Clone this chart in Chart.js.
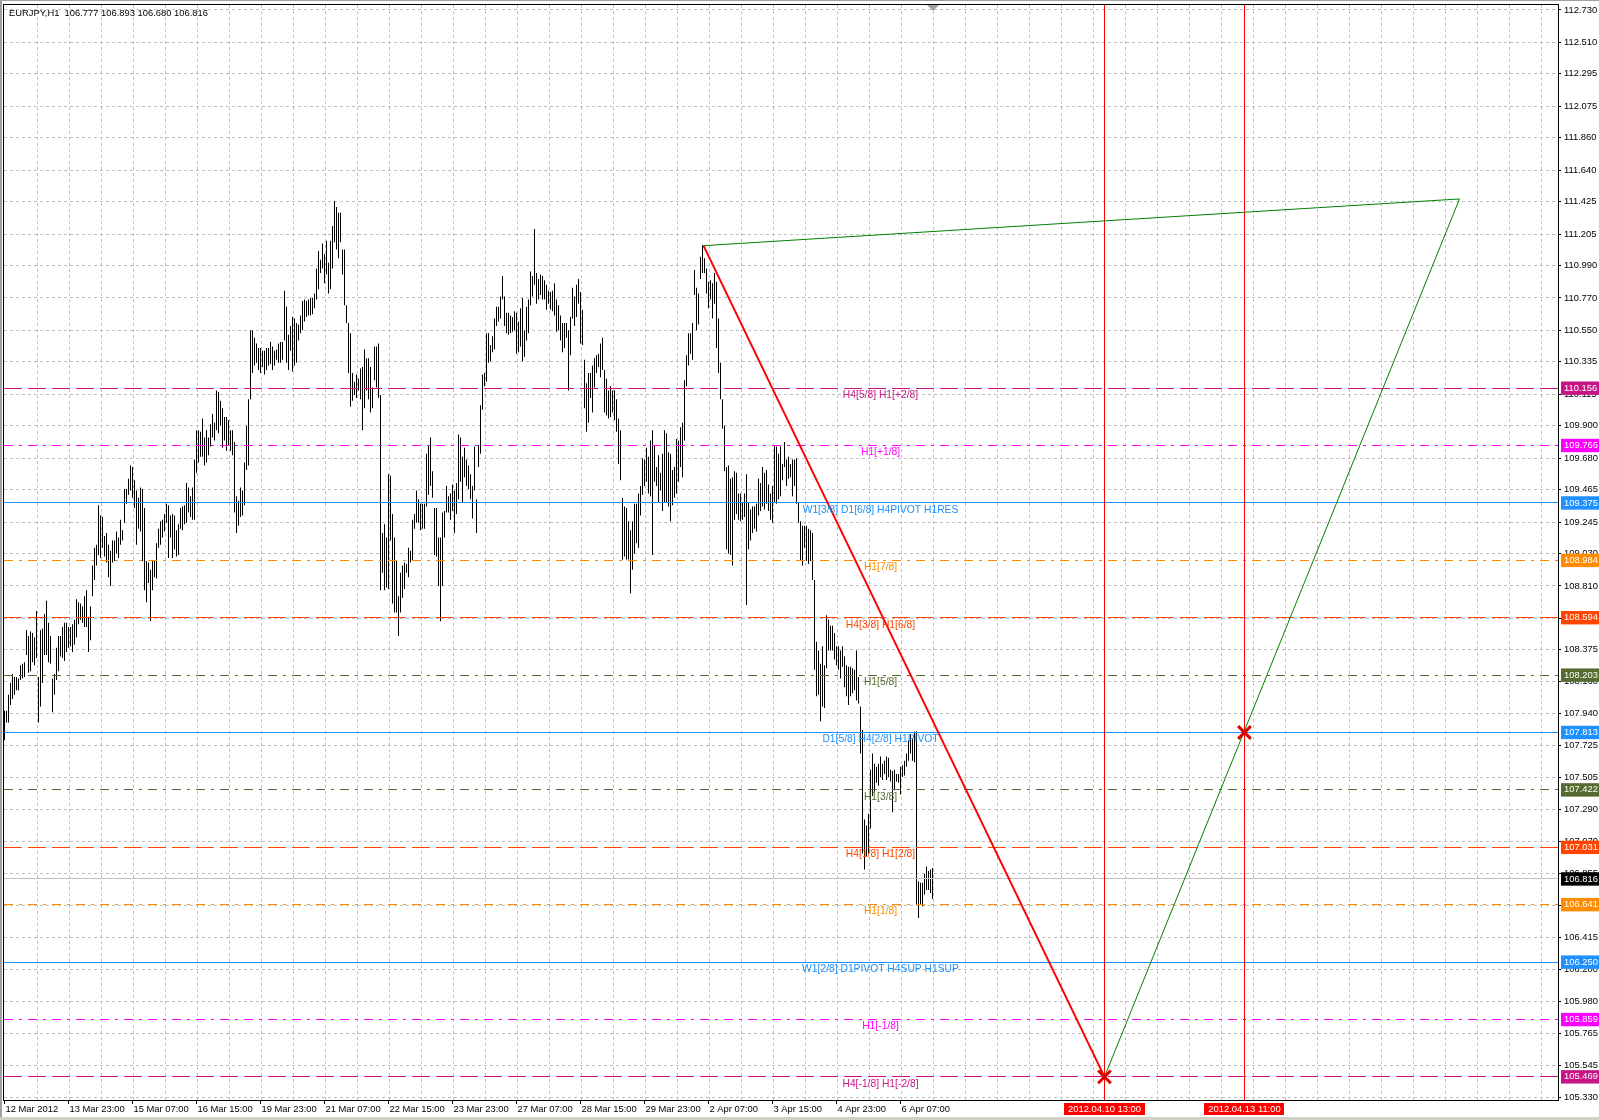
<!DOCTYPE html>
<html lang="en">
<head>
<meta charset="UTF-8" />
<title>EURJPY,H1</title>
<script src="https://cdn.jsdelivr.net/npm/chart.js"></script>
<style>
    html, body { margin: 0; padding: 0; background: #fff; }
    #wrap { width: 1599px; height: 1120px; }
</style>
</head>
<body>
<div id="wrap"><canvas id="chart" width="1599" height="1120"></canvas></div>
<script>
// ---- chart data ----
const title = 'EURJPY,H1  106.777 106.893 106.680 106.816';

// hourly bars, one per hour from 12 Mar 2012 00:00
const barHigh = [
    107.96,107.96,108.07,108.15,108.21,108.19,108.19,108.18,108.27,108.28,
    108.29,108.51,108.47,108.50,108.49,108.46,108.64,108.19,108.51,108.52,
    108.62,108.71,108.56,108.47,108.18,108.21,108.39,108.47,108.47,108.53,
    108.56,108.56,108.53,108.53,108.55,108.58,108.72,108.70,108.69,108.67,
    108.74,108.78,108.60,108.67,108.95,109.07,109.09,109.36,109.29,109.28,
    109.15,109.17,109.09,109.05,109.12,109.12,109.18,109.14,109.26,109.19,
    109.47,109.47,109.54,109.63,109.62,109.53,109.46,109.41,109.48,109.47,
    109.34,108.98,108.97,108.92,108.98,108.98,109.10,109.20,109.25,109.26,
    109.30,109.37,109.36,109.29,109.30,109.29,109.19,109.23,109.34,109.35,
    109.36,109.51,109.48,109.42,109.48,109.67,109.87,109.87,109.86,109.95,
    109.82,109.87,109.82,109.91,109.98,109.92,110.14,110.13,110.07,110.02,
    109.96,109.96,109.94,109.87,109.87,109.79,109.42,109.39,109.48,109.46,
    109.65,109.90,110.08,110.55,110.55,110.50,110.46,110.43,110.43,110.41,
    110.41,110.43,110.43,110.47,110.44,110.41,110.42,110.46,110.47,110.47,
    110.82,110.71,110.52,110.58,110.64,110.63,110.60,110.59,110.65,110.75,
    110.76,110.75,110.76,110.77,110.77,110.80,110.97,111.09,111.03,111.14,
    111.07,111.16,111.01,111.16,111.26,111.43,111.39,111.35,111.35,111.10,
    111.10,110.72,110.60,110.53,110.26,110.20,110.25,110.22,110.29,110.30,
    110.42,110.36,110.36,110.30,110.16,110.44,110.44,110.46,110.11,109.17,
    109.23,109.14,109.57,109.56,109.30,109.14,108.98,108.74,108.90,108.95,
    108.97,108.96,109.07,109.05,109.26,109.30,109.46,109.40,109.37,109.37,
    109.37,109.71,109.77,109.82,109.59,109.34,109.34,109.14,109.14,109.31,
    109.32,109.49,109.42,109.44,109.50,109.46,109.51,109.84,109.82,109.69,
    109.75,109.67,109.63,109.57,109.49,109.76,109.40,109.77,110.04,110.25,
    110.26,110.53,110.53,110.45,110.51,110.63,110.71,110.71,110.78,110.92,
    110.78,110.67,110.67,110.65,110.64,110.68,110.67,110.61,110.70,110.77,
    110.55,110.71,110.76,110.95,110.92,111.24,110.94,110.90,110.93,110.92,
    110.89,110.86,110.82,110.81,110.82,110.87,110.76,110.72,110.65,110.60,
    110.60,110.60,110.55,110.64,110.84,110.78,110.86,110.90,110.81,110.69,
    110.35,110.19,110.26,110.26,110.31,110.36,110.38,110.39,110.46,110.50,
    110.28,110.22,110.14,110.17,110.14,110.14,110.08,109.95,109.87,109.41,
    109.35,109.34,109.25,109.19,109.25,109.37,109.37,109.44,109.49,109.68,
    109.67,109.75,109.69,109.80,109.87,109.77,109.62,109.70,109.58,109.71,
    109.87,109.85,109.72,109.71,109.60,109.62,109.81,109.80,109.89,109.92,
    110.21,110.38,110.53,110.53,110.60,110.96,110.84,110.80,111.05,111.13,
    111.04,110.97,110.88,110.89,110.87,110.94,110.88,110.63,110.33,110.08,
    109.90,109.62,109.63,109.54,109.55,109.59,109.58,109.44,109.44,109.38,
    109.44,109.57,109.38,109.33,109.35,109.35,109.37,109.54,109.51,109.62,
    109.58,109.60,109.50,109.44,109.49,109.77,109.76,109.71,109.76,109.64,
    109.79,109.67,109.69,109.64,109.67,109.67,109.68,109.38,109.25,109.22,
    109.22,109.22,109.20,109.19,109.17,108.85,108.43,108.37,108.28,108.40,
    108.27,108.61,108.58,108.54,108.54,108.49,108.40,108.40,108.37,108.40,
    108.33,108.27,108.26,108.26,108.25,108.24,108.37,108.19,107.99,107.83,
    107.22,107.18,107.26,107.56,107.67,107.60,107.58,107.60,107.65,107.60,
    107.62,107.65,107.64,107.56,107.55,107.56,107.53,107.53,107.58,107.59,
    107.62,107.67,107.76,107.80,107.77,107.82,107.82,106.80,106.79,106.79,
    106.85,106.90,106.87,106.88,106.89
];
const barLow = [
    107.76,107.88,107.88,108.00,108.04,108.07,108.10,108.10,108.17,108.18,
    108.19,108.34,108.22,108.23,108.29,108.27,108.32,107.88,107.99,108.15,
    108.34,108.34,108.29,108.28,107.95,108.07,108.17,108.23,108.33,108.32,
    108.30,108.36,108.39,108.40,108.36,108.41,108.46,108.55,108.58,108.56,
    108.53,108.53,108.36,108.44,108.74,108.85,108.95,109.02,109.00,109.07,
    109.01,108.97,108.87,108.81,108.97,108.98,109.03,109.00,109.09,109.12,
    109.24,109.37,109.43,109.46,109.41,109.34,109.09,109.20,109.18,108.98,
    108.78,108.70,108.83,108.57,108.78,108.87,108.86,109.07,109.09,109.14,
    109.18,109.24,109.00,109.14,109.00,109.06,109.01,109.02,109.20,109.19,
    109.23,109.24,109.31,109.28,109.26,109.26,109.58,109.65,109.69,109.69,
    109.63,109.65,109.70,109.76,109.82,109.80,109.87,109.85,109.90,109.75,
    109.80,109.73,109.77,109.73,109.70,109.31,109.17,109.22,109.28,109.29,
    109.36,109.60,109.63,110.08,110.26,110.31,110.33,110.28,110.26,110.30,
    110.25,110.28,110.31,110.32,110.28,110.31,110.35,110.33,110.33,110.35,
    110.48,110.33,110.28,110.41,110.27,110.31,110.33,110.48,110.53,110.55,
    110.61,110.64,110.65,110.65,110.66,110.70,110.76,110.83,110.94,110.97,
    110.87,110.93,110.80,110.83,110.97,111.15,111.10,111.04,111.15,110.93,
    110.72,110.60,110.26,110.03,110.07,110.11,110.09,110.14,110.08,109.87,
    110.02,110.14,110.08,109.99,110.02,110.21,110.16,110.09,108.78,108.90,
    108.78,108.80,108.79,109.12,108.69,108.63,108.63,108.47,108.63,108.73,
    108.79,108.90,108.87,108.97,108.98,109.20,109.24,109.24,109.19,109.20,
    109.20,109.35,109.43,109.49,109.41,109.02,109.01,108.81,108.57,108.81,
    109.14,109.31,109.31,109.26,109.32,109.17,109.30,109.40,109.52,109.38,
    109.55,109.49,109.47,109.40,109.27,109.46,109.17,109.62,109.71,110.01,
    110.17,110.20,110.33,110.34,110.40,110.42,110.58,110.61,110.63,110.76,
    110.58,110.53,110.52,110.53,110.54,110.55,110.39,110.40,110.44,110.34,
    110.37,110.48,110.53,110.72,110.78,110.86,110.73,110.76,110.79,110.76,
    110.76,110.69,110.73,110.69,110.68,110.65,110.54,110.55,110.48,110.40,
    110.43,110.50,110.14,110.38,110.63,110.58,110.64,110.73,110.46,110.45,
    110.02,109.86,109.92,110.09,109.99,110.16,110.26,110.30,110.23,110.28,
    109.99,109.97,109.95,109.96,109.99,109.94,109.86,109.64,109.53,108.99,
    109.01,108.99,108.99,108.76,108.92,109.03,109.10,109.07,109.29,109.43,
    109.49,109.52,109.44,109.42,109.02,109.52,109.49,109.38,109.46,109.32,
    109.38,109.38,109.35,109.25,109.36,109.41,109.44,109.52,109.62,109.55,
    109.80,110.17,110.31,110.39,110.35,110.79,110.55,110.59,110.90,110.94,
    110.94,110.80,110.70,110.76,110.63,110.73,110.43,110.26,110.08,109.88,
    109.59,109.06,109.03,109.02,108.95,109.26,109.30,109.26,109.25,109.26,
    109.28,108.68,109.06,109.12,109.17,109.20,109.18,109.29,109.32,109.35,
    109.33,109.37,109.32,109.26,109.24,109.38,109.37,109.40,109.42,109.53,
    109.62,109.49,109.54,109.55,109.42,109.49,109.37,109.24,108.98,108.95,
    109.07,108.98,108.96,108.98,108.85,108.24,108.06,108.07,107.89,107.99,
    107.98,108.25,108.37,108.37,108.37,108.31,108.27,108.24,108.18,108.26,
    108.12,108.06,108.00,108.06,108.08,108.10,108.03,108.01,107.67,106.99,
    106.88,106.97,106.99,107.16,107.38,107.41,107.47,107.45,107.51,107.49,
    107.53,107.49,107.51,107.48,107.27,107.42,107.48,107.47,107.39,107.51,
    107.52,107.58,107.62,107.67,107.62,107.61,106.64,106.55,106.64,106.63,
    106.71,106.74,106.74,106.72,106.68
];

// time axis labels, every 32 bars
const timeBars = [0, 32, 64, 96, 128, 160, 192, 224, 256, 288, 320, 352, 384, 416, 448];
const timeLabels = ['12 Mar 2012', '13 Mar 23:00', '15 Mar 07:00', '16 Mar 15:00', '19 Mar 23:00',
    '21 Mar 07:00', '22 Mar 15:00', '23 Mar 23:00', '27 Mar 07:00', '28 Mar 15:00',
    '29 Mar 23:00', '2 Apr 07:00', '3 Apr 15:00', '4 Apr 23:00', '6 Apr 07:00'];

// price axis ticks
const priceTicks = [105.330, 105.545, 105.765, 105.980, 106.200, 106.415, 106.635, 106.855, 107.070,
    107.290, 107.505, 107.725, 107.940, 108.160, 108.375, 108.590, 108.810, 109.030, 109.245,
    109.465, 109.680, 109.900, 110.115, 110.335, 110.550, 110.770, 110.990, 111.205, 111.425,
    111.640, 111.860, 112.075, 112.295, 112.510, 112.730];

// murrey-math style levels
const levelPrices = [110.156, 109.766, 109.375, 108.984, 108.594, 108.203, 107.813, 107.422,
    107.031, 106.641, 106.250, 105.859, 105.469];
const levelNames = ['H4[5/8] H1[+2/8]', 'H1[+1/8]', 'W1[3/8] D1[6/8] H4PIVOT H1RES', 'H1[7/8]',
    'H4[3/8] H1[6/8]', 'H1[5/8]', 'D1[5/8] H4[2/8] H1PIVOT', 'H1[3/8]', 'H4[1/8] H1[2/8]',
    'H1[1/8]', 'W1[2/8] D1PIVOT H4SUP H1SUP', 'H1[-1/8]', 'H4[-1/8] H1[-2/8]'];
const levelColors = ['#c71585', '#ff00ff', '#1e90ff', '#ff8c00', '#ff4500', '#556b2f', '#1e90ff',
    '#556b2f', '#ff4500', '#ff8c00', '#1e90ff', '#ff00ff', '#c71585'];
const levelStyles = ['dash', 'dashdot', 'solid', 'dashdot', 'dash', 'dashdot', 'solid', 'dashdot',
    'dash', 'dashdot', 'solid', 'dashdot', 'dash'];
const lastPrice = 106.816;

// drawn objects: trend lines, crosses, vertical time lines (x in bars)
const redTrendX = [349.5, 550];
const redTrendY = [111.126, 105.469];
const greenX = [349.5, 727.5, 550];
const greenY = [111.126, 111.444, 105.469];
const crossX = [550, 620];
const crossY = [105.469, 107.813];
const vLineBars = [550, 620];
const vLineLabels = ['2012.04.10 13:00', '2012.04.13 11:00'];

// ---- layout ----
const xMin = -0.25, xMax = 776.75;
const yMin = 105.3115, yMax = 112.764;
const FONT = '"Liberation Sans", Arial, sans-serif';
const dashOf = { solid: [], dash: [18, 6], dashdot: [9, 6, 3, 6] };
const captionBar = 438;

const lineSet = (xs, ys, color, width, order, dash) => ({
    type: 'line',
    data: xs.map((x, k) => ({ x: x, y: ys[k] })),
    borderColor: color,
    borderWidth: width,
    borderDash: dash || [],
    pointRadius: 0,
    tension: 0,
    order: order
});

const datasets = [];
datasets.push({
    type: 'bar',
    data: barHigh.map((h, i) => ({ x: i, y: [barLow[i], h] })),
    backgroundColor: '#000',
    borderWidth: 0,
    barThickness: 1,
    inflateAmount: 0,
    order: 6
});
levelPrices.forEach((p, k) => {
    const ds = lineSet([xMin, xMax], [p, p], levelColors[k], 1, 4, dashOf[levelStyles[k]]);
    ds.snapY = p;
    datasets.push(ds);
});
const bid = lineSet([xMin, xMax], [lastPrice, lastPrice], '#c0c0c0', 1, 5);
bid.snapY = lastPrice;
datasets.push(bid);
vLineBars.forEach(b => datasets.push(lineSet([b, b], [yMin, yMax], '#ff0000', 1, 3)));
datasets.push(lineSet(greenX, greenY, '#008000', 1, 2));
datasets.push(lineSet(redTrendX, redTrendY, '#ff0000', 2, 2));
datasets.push({
    type: 'line',
    data: crossX.map((x, k) => ({ x: x, y: crossY[k] })),
    showLine: false,
    pointStyle: 'crossRot',
    pointRadius: 9,
    pointBorderWidth: 3,
    pointBorderColor: '#e00000',
    order: 1
});

// keep 1px horizontal level lines on whole pixels, like the terminal draws them
const pixelSnap = {
    id: 'pixelSnap',
    beforeDatasetDraw(chart, args) {
        const ds = chart.data.datasets[args.index];
        if (ds.snapY === undefined) return;
        const py = chart.scales.y.getPixelForValue(ds.snapY);
        chart.ctx.save();
        chart.ctx.translate(0, Math.floor(py) + 0.5 - py);
        args.meta._snapped = true;
    },
    afterDatasetDraw(chart, args) {
        if (args.meta._snapped) {
            chart.ctx.restore();
            args.meta._snapped = false;
        }
    }
};

const overlay = {
    id: 'overlay',
    afterDatasetsDraw(chart) {
        const { ctx, scales: { x, y } } = chart;
        ctx.save();
        ctx.font = '10.3px ' + FONT;
        ctx.textAlign = 'center';
        ctx.textBaseline = 'middle';
        levelPrices.forEach((p, k) => {
            ctx.fillStyle = levelColors[k];
            ctx.fillText(levelNames[k], x.getPixelForValue(captionBar), y.getPixelForValue(p) + 7);
        });
        ctx.restore();
    },
    afterDraw(chart) {
        const { ctx, chartArea: a, scales: { x } } = chart;
        ctx.save();
        // plot frame
        ctx.strokeStyle = '#000';
        ctx.lineWidth = 1;
        ctx.strokeRect(a.left - 0.5, a.top - 0.5, a.right - a.left + 1, a.bottom - a.top + 1);
        // window edges
        ctx.fillStyle = '#a0a0a0';
        ctx.fillRect(0, 0, 1599, 1);
        ctx.fillRect(0, 0, 2, 1120);
        ctx.fillStyle = '#d4d0c8';
        ctx.fillRect(0, 1117, 1599, 3);
        // chart shift marker
        ctx.fillStyle = '#a0a0a0';
        ctx.beginPath();
        ctx.moveTo(927, a.top);
        ctx.lineTo(939, a.top);
        ctx.lineTo(933, a.top + 6);
        ctx.closePath();
        ctx.fill();
        // title
        ctx.font = '9.4px ' + FONT;
        ctx.fillStyle = '#000';
        ctx.textAlign = 'left';
        ctx.textBaseline = 'middle';
        ctx.fillText(title, 9, 13);
        // time labels of the vertical lines
        ctx.textAlign = 'center';
        vLineBars.forEach((b, k) => {
            const px = x.getPixelForValue(b);
            const w = ctx.measureText(vLineLabels[k]).width + 8;
            ctx.fillStyle = '#ff0000';
            ctx.fillRect(Math.round(px - w / 2), a.bottom + 3, Math.round(w), 12);
            ctx.fillStyle = '#fff';
            ctx.fillText(vLineLabels[k], px, a.bottom + 9.5);
        });
        ctx.restore();
    }
};

const isLvl = c => !!(c.tick && c.tick.bg);

new Chart(document.getElementById('chart'), {
    type: 'bar',
    data: { datasets: datasets },
    plugins: [pixelSnap, overlay],
    options: {
        responsive: false,
        animation: false,
        devicePixelRatio: 1,
        events: [],
        layout: { autoPadding: false, padding: { left: 4, top: 5, right: 0, bottom: 0 } },
        plugins: { legend: { display: false }, tooltip: { enabled: false } },
        scales: {
            x: {
                type: 'linear',
                min: xMin,
                max: xMax,
                bounds: 'data',
                offset: false,
                afterBuildTicks: s => {
                    const t = timeBars.map(v => ({ value: v, lab: true }));
                    for (let v = 16.4; v < xMax; v += 16) t.push({ value: v });
                    t.sort((p, q) => p.value - q.value);
                    s.ticks = t;
                },
                afterFit: s => {
                    s.height = 20;
                    s.paddingLeft = 0;
                    s.paddingRight = 0;
                },
                ticks: {
                    autoSkip: false,
                    maxRotation: 0,
                    minRotation: 0,
                    align: 'start',
                    padding: 1,
                    labelOffset: 1,
                    color: '#000',
                    font: { family: FONT, size: 9.4, lineHeight: 1 },
                    callback: v => {
                        const k = timeBars.indexOf(v);
                        return k >= 0 ? timeLabels[k] : '';
                    }
                },
                grid: {
                    offset: false,
                    color: c => (c.tick && c.tick.lab ? 'rgba(0,0,0,0)' : '#c0c0c0'),
                    tickColor: c => (c.tick && c.tick.lab ? '#000' : 'rgba(0,0,0,0)'),
                    tickLength: 4
                },
                border: { color: '#000', width: 1, dash: [3, 3] }
            },
            y: {
                type: 'linear',
                position: 'right',
                min: yMin,
                max: yMax,
                bounds: 'data',
                afterBuildTicks: s => {
                    const t = priceTicks.map(v => ({ value: v }));
                    levelPrices.forEach((p, k) => t.push({ value: p, bg: levelColors[k] }));
                    t.push({ value: lastPrice, bg: '#000' });
                    s.ticks = t;
                },
                afterFit: s => {
                    s.width = 41;
                    s.paddingTop = 0;
                    s.paddingBottom = 0;
                },
                ticks: {
                    autoSkip: false,
                    padding: 3,
                    font: { family: FONT, size: 9.4, lineHeight: 1 },
                    color: c => (isLvl(c) ? '#fff' : '#000'),
                    showLabelBackdrop: c => isLvl(c),
                    backdropColor: c => (isLvl(c) ? c.tick.bg : 'rgba(0,0,0,0)'),
                    backdropPadding: { top: 2, bottom: 2, left: 3, right: 2 },
                    callback: v => v.toFixed(3)
                },
                grid: {
                    color: c => (isLvl(c) ? 'rgba(0,0,0,0)' : '#c0c0c0'),
                    tickColor: c => (isLvl(c) ? 'rgba(0,0,0,0)' : '#000'),
                    tickLength: 3
                },
                border: { color: '#000', width: 1, dash: [3, 3] }
            }
        }
    }
});
</script>
</body>
</html>
